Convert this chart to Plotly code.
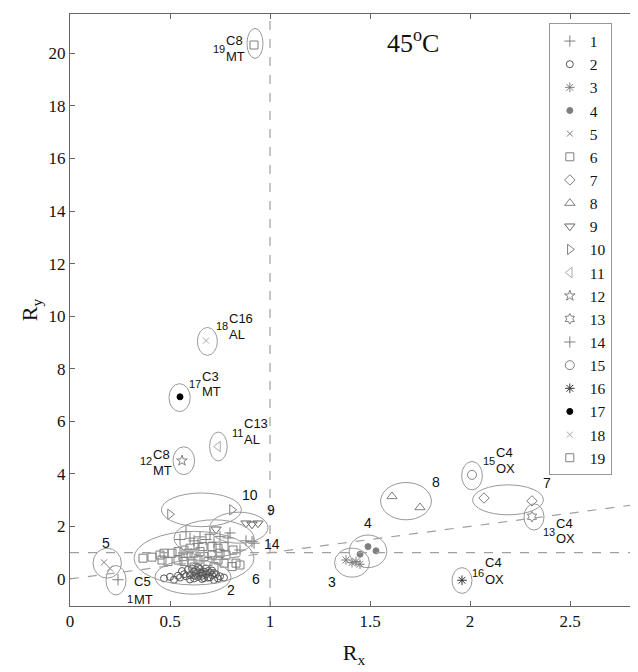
import plotly.graph_objects as go

# ---------------- data ----------------
group_names = [str(i) for i in range(1, 20)]

g1_x = [0.24]
g1_y = [-0.03]
g2_x = [0.47, 0.52, 0.55, 0.58, 0.60, 0.62, 0.63, 0.64, 0.65, 0.66, 0.67, 0.68, 0.69, 0.70,
        0.71, 0.72, 0.74, 0.75, 0.56, 0.59, 0.61, 0.63, 0.65, 0.67, 0.69, 0.71, 0.73, 0.60,
        0.62, 0.64, 0.66, 0.68, 0.70, 0.57, 0.77, 0.54, 0.50, 0.72, 0.66, 0.62]
g2_y = [0.02, -0.03, 0.05, 0.10, 0.15, 0.02, 0.20, 0.08, 0.25, 0.12, 0.03, 0.18, 0.30, 0.06,
        0.15, 0.22, 0.02, 0.10, 0.30, 0.35, 0.40, 0.33, 0.38, 0.28, 0.05, 0.32, 0.18, -0.02,
        0.12, 0.45, 0.00, 0.40, 0.25, 0.18, 0.05, 0.12, 0.08, -0.04, 0.20, 0.28]
g3_x = [1.38, 1.41, 1.43, 1.45]
g3_y = [0.72, 0.62, 0.66, 0.56]
g4_x = [1.45, 1.49, 1.53]
g4_y = [0.94, 1.23, 1.07]
g5_x = [0.17, 0.20]
g5_y = [0.63, 0.40]
g6_x = [0.365, 0.41, 0.45, 0.47, 0.51, 0.54, 0.565, 0.59, 0.665, 0.71, 0.74, 0.77, 0.815,
        0.83, 0.85, 0.81, 0.74, 0.69, 0.67, 0.64, 0.61, 0.57, 0.54, 0.49, 0.46, 0.62, 0.72,
        0.77, 0.62, 0.65, 0.75, 0.78, 0.71, 0.57, 0.60]
g6_y = [0.79, 0.83, 0.91, 0.98, 0.98, 1.04, 0.85, 0.98, 1.23, 1.23, 1.17, 1.23, 1.10,
        0.60, 0.53, 0.47, 0.72, 0.66, 0.85, 0.72, 0.60, 0.66, 0.72, 0.66, 0.72, 0.45, 0.47,
        0.60, 0.98, 1.04, 0.98, 0.91, 0.91, 1.10, 1.17]
g7_x = [2.07, 2.31]
g7_y = [3.08, 2.97]
g8_x = [1.61, 1.75]
g8_y = [3.14, 2.72]
g9_x = [0.73, 0.88, 0.91, 0.94]
g9_y = [1.89, 2.12, 2.08, 2.12]
g10_x = [0.50, 0.81]
g10_y = [2.46, 2.63]
g11_x = [0.74]
g11_y = [5.04]
g12_x = [0.56]
g12_y = [4.50]
g13_x = [2.31]
g13_y = [2.37]
g14_x = [0.58, 0.60, 0.62, 0.65, 0.68, 0.70, 0.72, 0.75, 0.79, 0.80, 0.85, 0.88, 0.91, 0.92, 0.55, 0.64]
g14_y = [1.80, 1.55, 1.45, 1.60, 1.50, 1.70, 1.40, 1.62, 1.56, 1.75, 1.10, 1.45, 1.42, 1.36, 1.50, 1.35]
g15_x = [2.01]
g15_y = [3.96]
g16_x = [1.96]
g16_y = [-0.05]
g17_x = [0.55]
g17_y = [6.93]
g18_x = [0.68]
g18_y = [9.07]
g19_x = [0.92]
g19_y = [20.32]

xs = [g1_x, g2_x, g3_x, g4_x, g5_x, g6_x, g7_x, g8_x, g9_x, g10_x,
      g11_x, g12_x, g13_x, g14_x, g15_x, g16_x, g17_x, g18_x, g19_x]
ys = [g1_y, g2_y, g3_y, g4_y, g5_y, g6_y, g7_y, g8_y, g9_y, g10_y,
      g11_y, g12_y, g13_y, g14_y, g15_y, g16_y, g17_y, g18_y, g19_y]

# cluster ellipses: centre x, centre y, half width, half height (data units)
ell_cx = [0.23, 0.615, 1.41, 1.49, 0.186, 0.62, 2.19, 1.68, 0.844, 0.657,
          0.742, 0.569, 2.32, 0.72, 2.01, 1.96, 0.548, 0.687, 0.925]
ell_cy = [-0.05, 0.07, 0.62, 1.05, 0.60, 0.79, 3.01, 2.96, 1.95, 2.63,
          5.04, 4.50, 2.36, 1.55, 3.93, -0.06, 6.90, 9.04, 20.38]
ell_rx = [0.05, 0.19, 0.0875, 0.094, 0.071, 0.30, 0.177, 0.127, 0.146, 0.20,
          0.044, 0.054, 0.05, 0.20, 0.052, 0.05, 0.053, 0.05, 0.04]
ell_ry = [0.56, 0.65, 0.55, 0.62, 0.57, 1.02, 0.57, 0.71, 0.59, 0.64,
          0.55, 0.53, 0.50, 0.70, 0.54, 0.49, 0.53, 0.53, 0.57]

x_ticks = [0, 0.5, 1, 1.5, 2, 2.5]
y_ticks = [0, 2, 4, 6, 8, 10, 12, 14, 16, 18, 20]

# ---------------- styles ----------------
GRAY = "#7f7f7f"
symbols = ["cross-thin-open", "circle-open", "asterisk-open", "circle", "x-thin-open",
           "square-open", "diamond-open", "triangle-up-open", "triangle-down-open",
           "triangle-right-open", "triangle-left-open", "star-open", "hexagram-open",
           "cross-thin-open", "circle-open", "asterisk-open", "circle", "x-thin-open",
           "square-open"]
colors = [GRAY, "#555555", GRAY, GRAY, GRAY, GRAY, GRAY, GRAY, "#666666", GRAY,
          "#aaaaaa", GRAY, GRAY, GRAY, GRAY, "#333333", "#000000", "#aaaaaa", GRAY]
sizes = [8, 7, 8, 6, 6, 8, 8, 9, 9, 9, 9, 8, 8, 8, 9, 8, 6, 6, 8]

fig = go.Figure()
for i in range(19):
    fig.add_trace(go.Scatter(
        x=xs[i], y=ys[i], mode="markers", name=group_names[i],
        legendgroup=group_names[i],
        marker=dict(symbol=symbols[i], color=colors[i], size=sizes[i],
                    line=dict(color=colors[i], width=1)),
    ))

# ellipses
for cx, cy, rx, ry in zip(ell_cx, ell_cy, ell_rx, ell_ry):
    fig.add_shape(type="circle", xref="x", yref="y",
                  x0=cx - rx, x1=cx + rx, y0=cy - ry, y1=cy + ry,
                  line=dict(color="#999999", width=1))

# dashed reference lines
dash = dict(color="#a0a0a0", width=1.2, dash="dash")
fig.add_shape(type="line", xref="x", yref="paper", x0=1, x1=1, y0=0, y1=1, line=dash)
fig.add_shape(type="line", xref="paper", yref="y", x0=0, x1=1, y0=1, y1=1, line=dash)
fig.add_shape(type="line", xref="x", yref="y", x0=0, x1=2.84, y0=0, y1=2.84, line=dash)

SANS = "Liberation Sans, Arial, sans-serif"
SERIF = "Liberation Serif, Times New Roman, serif"


def ann(x, y, text, size=12, xanchor="center"):
    fig.add_annotation(x=x, y=y, xref="x", yref="y", text=text, showarrow=False,
                       xanchor=xanchor, yanchor="middle", borderpad=0,
                       font=dict(family=SANS, size=size, color="#111111"))


# simple numeric labels
for x, y, t in [(0.18, 1.36, "5"), (0.807, -0.42, "2"), (0.93, 0.0, "6"),
                (1.01, 1.32, "14"), (1.007, 2.63, "9"), (0.9, 3.2, "10"),
                (1.83, 3.68, "8"), (2.385, 3.65, "7"), (1.49, 2.12, "4"),
                (1.31, -0.10, "3")]:
    ann(x, y, t, size=14)

# compound labels: split x, number (y), superscript (y), subscript (y)
for sx, n, ny, p, py, b, by in [
    (0.78, "19", 20.15, "C8", 20.50, "MT", 19.89),
    (0.797, "18", 9.61, "C16", 9.93, "AL", 9.30),
    (0.66, "17", 7.43, "C3", 7.71, "MT", 7.14),
    (0.87, "11", 5.55, "C13", 5.90, "AL", 5.30),
    (0.415, "12", 4.47, "C8", 4.75, "MT", 4.13),
    (2.13, "15", 4.47, "C4", 4.81, "OX", 4.22),
    (2.43, "13", 1.78, "C4", 2.12, "OX", 1.55),
    (2.073, "16", 0.22, "C4", 0.62, "OX", -0.04),
    (0.32, "1", -0.76, "C5", -0.10, "MT", -0.80),
]:
    ann(sx, ny, n, size=11, xanchor="right")
    ann(sx - 0.005, py, p, size=13, xanchor="left")
    ann(sx - 0.005, by, b, size=13, xanchor="left")

fig.add_annotation(x=1.715, y=20.46, xref="x", yref="y", text="45<sup>o</sup>C",
                   showarrow=False, font=dict(family=SERIF, size=26, color="#111111"))

axis_common = dict(showline=True, linecolor="#666666", linewidth=1, mirror="ticks",
                   ticks="inside", ticklen=5, tickcolor="#666666", showgrid=False,
                   zeroline=False, tickfont=dict(family=SERIF, size=17, color="#111111"))

fig.update_layout(
    width=630, height=664,
    margin=dict(l=62, r=0, t=6, b=66),
    paper_bgcolor="white", plot_bgcolor="white",
    xaxis=dict(range=[0, 2.84], tickvals=x_ticks, ticktext=[str(v) for v in x_ticks],
               title=dict(text="R<sub>x</sub>", font=dict(family=SERIF, size=22, color="#111111"),
                          standoff=14),
               **axis_common),
    yaxis=dict(range=[-1.03, 21.5], tickvals=y_ticks, ticktext=[str(v) for v in y_ticks],
               title=dict(text="R<sub>y</sub>", font=dict(family=SERIF, size=22, color="#111111"),
                          standoff=4),
               **axis_common),
    showlegend=True,
    legend=dict(x=0.843, y=0.984, xanchor="left", yanchor="top",
                bgcolor="white", bordercolor="#999999", borderwidth=1,
                font=dict(family=SERIF, size=15.5, color="#111111"),
                tracegroupgap=0, itemwidth=30),
)

fig.write_html("out.html")
